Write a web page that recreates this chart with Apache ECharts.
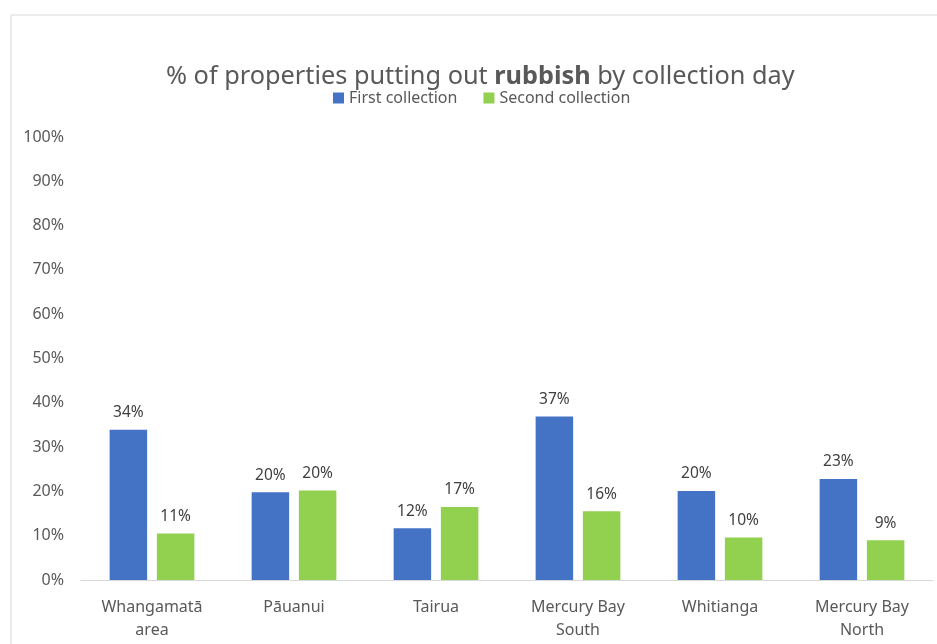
<!DOCTYPE html>
<html>
<head>
<meta charset="utf-8">
<script src="https://cdn.jsdelivr.net/npm/echarts@6/dist/echarts.min.js"></script>
<style>
html,body{margin:0;padding:0;background:#fff;}
#c{width:937px;height:644px;}
</style>
</head>
<body>
<div id="c"></div>
<script>
const categories = ['Whangamatā\narea', 'Pāuanui', 'Tairua', 'Mercury Bay\nSouth', 'Whitianga', 'Mercury Bay\nNorth'];
const firstCollection = [33.9, 19.8, 11.7, 36.9, 20.1, 22.8];
const secondCollection = [10.5, 20.2, 16.5, 15.5, 9.6, 9.0];
const yTicks = [0, 10, 20, 30, 40, 50, 60, 70, 80, 90, 100];

const FONT = 'Noto Sans';
const GREY = '#595959';
const chart = echarts.init(document.getElementById('c'), null, {renderer: 'canvas'});

const labelCfg = {
  show: true, position: 'top', distance: 9,
  color: '#404040', fontFamily: FONT, fontSize: 15.5,
  formatter: p => Math.round(p.value) + '%'
};

chart.setOption({
  animation: false,
  backgroundColor: '#fff',
  graphic: [{
    type: 'rect', left: 8.5, top: 12.5,
    shape: {width: 940, height: 700},
    style: {fill: 'none', stroke: '#d9d9d9', lineWidth: 1}
  }],
  title: {
    text: '% of properties putting out {b|rubbish} by collection day',
    left: 161, top: 59,
    textStyle: {
      fontFamily: FONT, fontSize: 25.3, fontWeight: 'normal', color: GREY,
      rich: {b: {fontFamily: FONT, fontSize: 25.3, fontWeight: 'bold', color: GREY}}
    }
  },
  legend: {
    data: ['First collection', 'Second collection'],
    left: 328, top: 85,
    itemWidth: 11, itemHeight: 11, itemGap: 26, icon: 'rect',
    textStyle: {fontFamily: FONT, fontSize: 16, color: GREY}
  },
  grid: {left: 81, right: 4, top: 137, bottom: 64, containLabel: false},
  xAxis: {
    type: 'category', data: categories,
    axisLine: {lineStyle: {color: '#d9d9d9', width: 1}},
    axisTick: {show: false},
    axisLabel: {fontFamily: FONT, fontSize: 16, color: GREY, margin: 16, lineHeight: 23, interval: 0}
  },
  yAxis: {
    type: 'value', min: 0, max: 100, interval: 10,
    splitLine: {show: false},
    axisLine: {show: false}, axisTick: {show: false},
    axisLabel: {fontFamily: FONT, fontSize: 16, color: GREY, margin: 17,
      formatter: v => yTicks.includes(v) ? v + '%' : ''}
  },
  series: [
    {name: 'First collection', type: 'bar', data: firstCollection,
     barWidth: '26.4%', barGap: '26%', itemStyle: {color: '#4472C4'}, label: labelCfg},
    {name: 'Second collection', type: 'bar', data: secondCollection,
     barWidth: '26.4%', itemStyle: {color: '#92D050'}, label: labelCfg}
  ]
});
</script>
</body>
</html>
